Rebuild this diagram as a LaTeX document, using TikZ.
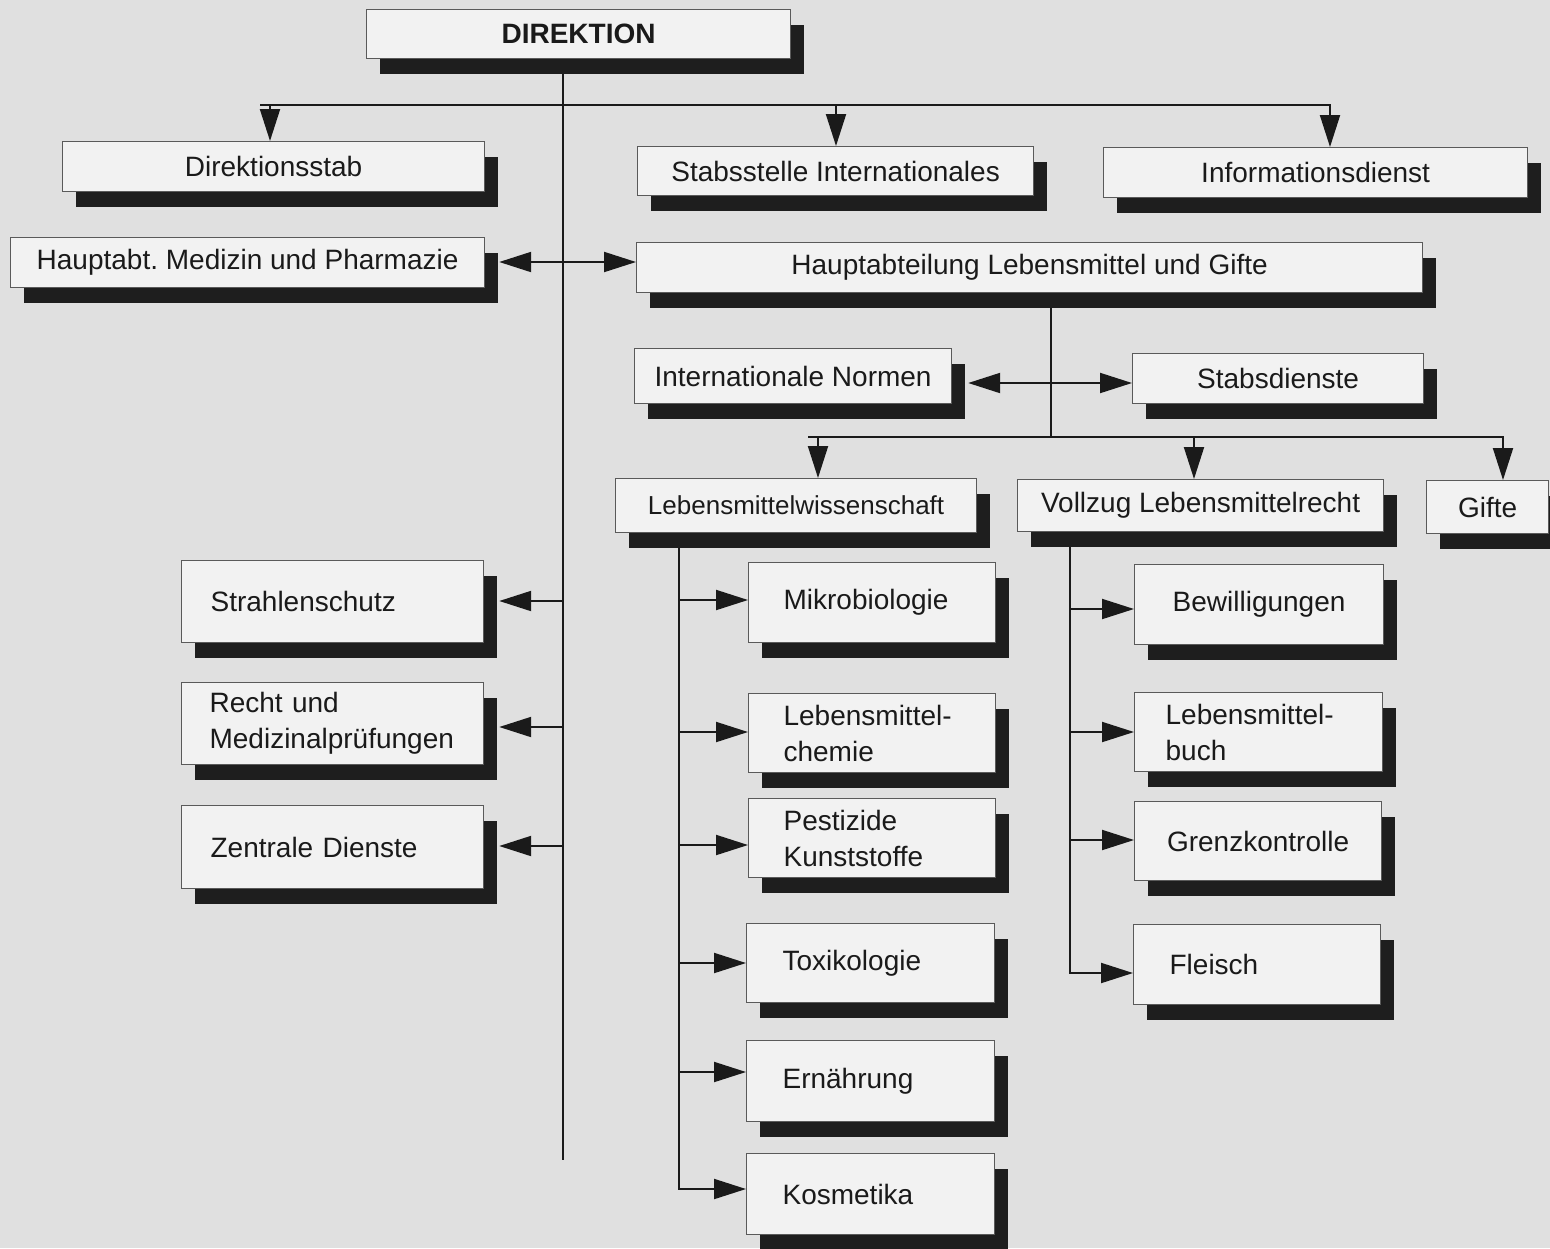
\documentclass[tikz,border=0pt]{standalone}
\usepackage{fontspec}
\setmainfont{Liberation Sans}
\usetikzlibrary{arrows.meta,shadows,calc}
\pgfdeclarelayer{backdrop}
\pgfdeclarelayer{lines}
\pgfsetlayers{backdrop,lines,main}
\definecolor{bgc}{HTML}{E0E0E0}
\definecolor{boxc}{HTML}{F2F2F2}
\definecolor{shc}{HTML}{1E1E1E}
\definecolor{inkc}{HTML}{1A1A1A}
\definecolor{edgec}{HTML}{5A5A5A}
\frenchspacing
\tikzset{
  orgbox/.style={draw=edgec, line width=1.2pt, fill=boxc, text=inkc, anchor=north west,
    inner sep=0pt, font=\fontsize{28}{36}\selectfont,
    drop shadow={shadow xshift=13pt, shadow yshift=-15pt, fill=shc, opacity=1}},
  lefttext/.style={align=left, text width=#1},
  conn/.style={draw=inkc, line width=2pt},
  arr/.style={conn, -{Triangle[length=32pt,width=20pt]}},
  darr/.style={conn, {Triangle[length=32pt,width=20pt]}-{Triangle[length=32pt,width=20pt]}},
}
\begin{document}
\begin{tikzpicture}[x=1pt,y=-1pt]
\useasboundingbox (0,0) rectangle (1550,1248);
\begin{pgfonlayer}{backdrop}
  \fill[bgc] (0,0) rectangle (1550,1248);
\end{pgfonlayer}

% ---------- boxes ----------
\node[orgbox, minimum width=424pt, minimum height=49pt] (dir) at (366,9) {\textbf{DIREKTION}};
\node[orgbox, minimum width=422pt, minimum height=50pt] (stab) at (62,141) {Direktionsstab};
\node[orgbox, minimum width=396pt, minimum height=49pt] (sint) at (637,146) {Stabsstelle Internationales};
\node[orgbox, minimum width=424pt, minimum height=50pt] (info) at (1103,147) {Informationsdienst};
\node[orgbox, minimum width=474pt, minimum height=50pt] (med) at (10,237) {Hauptabt.\ Medizin und Pharmazie};
\node[orgbox, minimum width=786pt, minimum height=50pt] (hlg) at (636,242) {Hauptabteilung Lebensmittel und Gifte};
\node[orgbox, minimum width=317pt, minimum height=55pt] (inorm) at (634,348) {Internationale Normen};
\node[orgbox, minimum width=291pt, minimum height=50pt] (sdienst) at (1132,353) {Stabsdienste};
\node[orgbox, minimum width=361pt, minimum height=54pt, font=\fontsize{26}{32}\selectfont] (lmw) at (615,478) {Lebensmittelwissenschaft};
\node[orgbox, minimum width=366pt, minimum height=52pt] (vlr) at (1017,479) {Vollzug Lebensmittelrecht};
\node[orgbox, minimum width=122pt, minimum height=53pt] (gifte) at (1426,480) {Gifte};

\node[orgbox, minimum width=302pt, minimum height=82pt, inner xsep=29pt, lefttext=244pt] (strahl) at (181,560) {Strahlenschutz};
\node[orgbox, minimum width=302pt, minimum height=82pt, inner xsep=28pt, lefttext=246pt] (recht) at (181,682) {Recht und\\Medizinalprüfungen};
\node[orgbox, minimum width=302pt, minimum height=83pt, inner xsep=29pt, lefttext=244pt] (zentral) at (181,805) {Zentrale Dienste};

\node[orgbox, minimum width=247pt, minimum height=80pt, inner xsep=35pt, lefttext=177pt] (mikro) at (748,562) {Mikrobiologie};
\node[orgbox, minimum width=247pt, minimum height=79pt, inner xsep=35pt, lefttext=177pt] (lmchem) at (748,693) {Lebensmittel-\\chemie};
\node[orgbox, minimum width=247pt, minimum height=79pt, inner xsep=35pt, lefttext=177pt] (pest) at (748,798) {Pestizide\\Kunststoffe};
\node[orgbox, minimum width=248pt, minimum height=79pt, inner xsep=36pt, lefttext=176pt] (toxi) at (746,923) {Toxikologie};
\node[orgbox, minimum width=248pt, minimum height=81pt, inner xsep=36pt, lefttext=176pt] (ernae) at (746,1040) {Ernährung};
\node[orgbox, minimum width=248pt, minimum height=81pt, inner xsep=36pt, lefttext=176pt] (kosm) at (746,1153) {Kosmetika};

\node[orgbox, minimum width=249pt, minimum height=80pt] (bew) at (1134,564) {Bewilligungen};
\node[orgbox, minimum width=248pt, minimum height=79pt, inner xsep=31pt, lefttext=186pt] (lmbuch) at (1134,692) {Lebensmittel-\\buch};
\node[orgbox, minimum width=247pt, minimum height=79pt] (grenz) at (1134,801) {Grenzkontrolle};
\node[orgbox, minimum width=247pt, minimum height=80pt, inner xsep=36pt, lefttext=175pt] (fleisch) at (1133,924) {Fleisch};

% ---------- connector coordinates ----------
\coordinate (mx) at (563,0);
\coordinate (mend) at (563,1160);
\coordinate (b1) at (270,105);
\coordinate (b2) at (836,105);
\coordinate (b3) at (1330,105);
\coordinate (d1) at (0,262);
\coordinate (hj) at (1051,437);
\coordinate (d2) at (0,383);
\coordinate (c1) at (818,437);
\coordinate (c2) at (1194,437);
\coordinate (c3) at (1503,437);
\coordinate (rs1) at (0,601);
\coordinate (rs2) at (0,727);
\coordinate (rs3) at (0,846);
\coordinate (lx) at (679,0);
\coordinate (rl1) at (0,600);
\coordinate (rl2) at (0,732);
\coordinate (rl3) at (0,845);
\coordinate (rl4) at (0,963);
\coordinate (rl5) at (0,1072);
\coordinate (rl6) at (0,1189);
\coordinate (vx) at (1070,0);
\coordinate (rv1) at (0,609);
\coordinate (rv2) at (0,732);
\coordinate (rv3) at (0,840);
\coordinate (rv4) at (0,973);

% ---------- connectors ----------
\begin{pgfonlayer}{lines}
  % main stem
  \draw[conn] (dir.south -| mx) -- (mend);
  % top bar
  \draw[arr] ($(b1)+(-10,0)$) -- (b3) -- (b3 |- info.north);
  \draw[arr] (b1) -- (b1 |- stab.north);
  \draw[arr] (b2) -- (b2 |- sint.north);
  % Medizin <-> Lebensmittel
  \draw[darr] ($(med.east |- d1)+(14,0)$) -- (hlg.west |- d1);
  % left branches
  \draw[arr] (mx |- rs1) -- ($(strahl.east |- rs1)+(15,0)$);
  \draw[arr] (mx |- rs2) -- ($(recht.east |- rs2)+(15,0)$);
  \draw[arr] (mx |- rs3) -- ($(zentral.east |- rs3)+(15,0)$);
  % Hauptabteilung LG stem
  \draw[conn] (hlg.south -| hj) -- (hj);
  \draw[darr] ($(inorm.east |- d2)+(16,0)$) -- (sdienst.west |- d2);
  % lower bar
  \draw[arr] ($(c1)+(-10,0)$) -- (c3) -- (c3 |- gifte.north);
  \draw[arr] (c1) -- (c1 |- lmw.north);
  \draw[arr] (c2) -- (c2 |- vlr.north);
  % Lebensmittelwissenschaft branch
  \draw[arr] (lmw.south -| lx) |- (kosm.west |- rl6);
  \draw[arr] (lx |- rl1) -- (mikro.west |- rl1);
  \draw[arr] (lx |- rl2) -- (lmchem.west |- rl2);
  \draw[arr] (lx |- rl3) -- (pest.west |- rl3);
  \draw[arr] (lx |- rl4) -- (toxi.west |- rl4);
  \draw[arr] (lx |- rl5) -- (ernae.west |- rl5);
  % Vollzug branch
  \draw[arr] (vlr.south -| vx) |- (fleisch.west |- rv4);
  \draw[arr] (vx |- rv1) -- (bew.west |- rv1);
  \draw[arr] (vx |- rv2) -- (lmbuch.west |- rv2);
  \draw[arr] (vx |- rv3) -- (grenz.west |- rv3);
\end{pgfonlayer}
\end{tikzpicture}
\end{document}
